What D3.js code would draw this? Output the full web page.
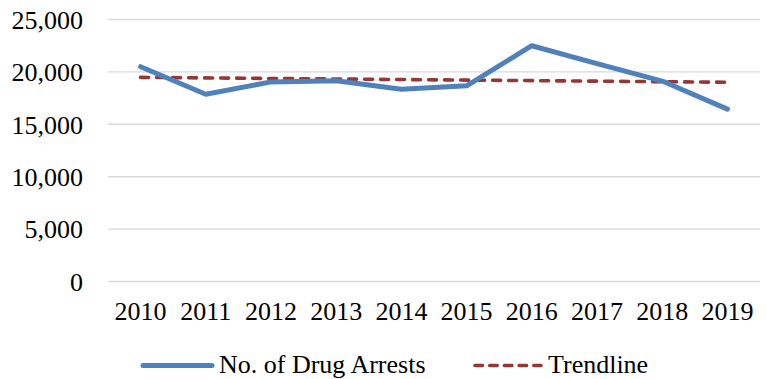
<!DOCTYPE html>
<html>
<head>
<meta charset="utf-8">
<script src="https://cdn.jsdelivr.net/npm/d3@7"></script>
<style>
  html, body { margin: 0; padding: 0; background: #fff; }
  svg { display: block; }
  text { font-family: "Liberation Serif", "Times New Roman", serif; fill: #000; }
</style>
</head>
<body>
<svg id="chart" width="767" height="379"></svg>
<script>
// ---- data ----
const years = ["2010","2011","2012","2013","2014","2015","2016","2017","2018","2019"];
const arrests = [20450, 17820, 19000, 19100, 18290, 18620, 22450, 20750, 19080, 16400];
const trendYears = ["2010", "2019"];
const trendValues = [19430, 18965];
const yTicks = [0, 5000, 10000, 15000, 20000, 25000];
const seriesNames = ["No. of Drug Arrests", "Trendline"];

// ---- layout ----
const svg = d3.select("#chart");
const plotLeft = 108, plotRight = 760, plotTop = 19, plotBottom = 281;
const fontSize = 26;

const x = d3.scaleBand().domain(years).range([plotLeft, plotRight]).padding(0);
const cx = d => x(d) + x.bandwidth() / 2;
const y = d3.scaleLinear().domain([0, 25000]).range([plotBottom, plotTop]);

// gridlines + y labels
const yAxis = d3.axisLeft(y)
  .tickValues(yTicks)
  .tickSize(-(plotRight - plotLeft))
  .tickPadding(25)
  .tickFormat(d3.format(","));
const gy = svg.append("g").attr("transform", `translate(${plotLeft},0)`).call(yAxis);
gy.select(".domain").remove();
gy.selectAll(".tick line").attr("stroke", "#d9d9d9").attr("stroke-width", 1.4);
gy.selectAll(".tick text")
  .attr("font-size", fontSize)
  .attr("font-family", "Liberation Serif, Times New Roman, serif")
  .attr("fill", "#000")
  .attr("dy", "0.36em");

// x labels
const xAxis = d3.axisBottom(x).tickSize(0).tickPadding(21);
const gx = svg.append("g").attr("transform", `translate(0,${plotBottom})`).call(xAxis);
gx.select(".domain").remove();
gx.selectAll(".tick text")
  .attr("font-size", fontSize)
  .attr("font-family", "Liberation Serif, Times New Roman, serif")
  .attr("fill", "#000");

// trendline
const trendData = trendYears.map((t, i) => ({ year: t, value: trendValues[i] }));
svg.append("path")
  .datum(trendData)
  .attr("fill", "none")
  .attr("stroke", "#953735")
  .attr("stroke-width", 3.6)
  .attr("stroke-linecap", "round")
  .attr("stroke-dasharray", "8,8")
  .attr("d", d3.line().x(d => cx(d.year)).y(d => y(d.value)));

// arrests line
const lineData = years.map((yr, i) => ({ year: yr, value: arrests[i] }));
svg.append("path")
  .datum(lineData)
  .attr("fill", "none")
  .attr("stroke", "#4f81bd")
  .attr("stroke-width", 5)
  .attr("stroke-linejoin", "round")
  .attr("stroke-linecap", "round")
  .attr("d", d3.line().x(d => cx(d.year)).y(d => y(d.value)));

// legend
const ly = 365.5, lb = 373;
svg.append("line")
  .attr("x1", 143).attr("x2", 212).attr("y1", ly).attr("y2", ly)
  .attr("stroke", "#4f81bd").attr("stroke-width", 5).attr("stroke-linecap", "round");
svg.append("text").attr("x", 219).attr("y", lb).attr("font-size", fontSize).text(seriesNames[0]);
svg.append("line")
  .attr("x1", 475).attr("x2", 541).attr("y1", ly).attr("y2", ly)
  .attr("stroke", "#953735").attr("stroke-width", 3.6).attr("stroke-linecap", "round")
  .attr("stroke-dasharray", "7.5,7.2");
svg.append("text").attr("x", 548).attr("y", lb).attr("font-size", fontSize).text(seriesNames[1]);
</script>
</body>
</html>
